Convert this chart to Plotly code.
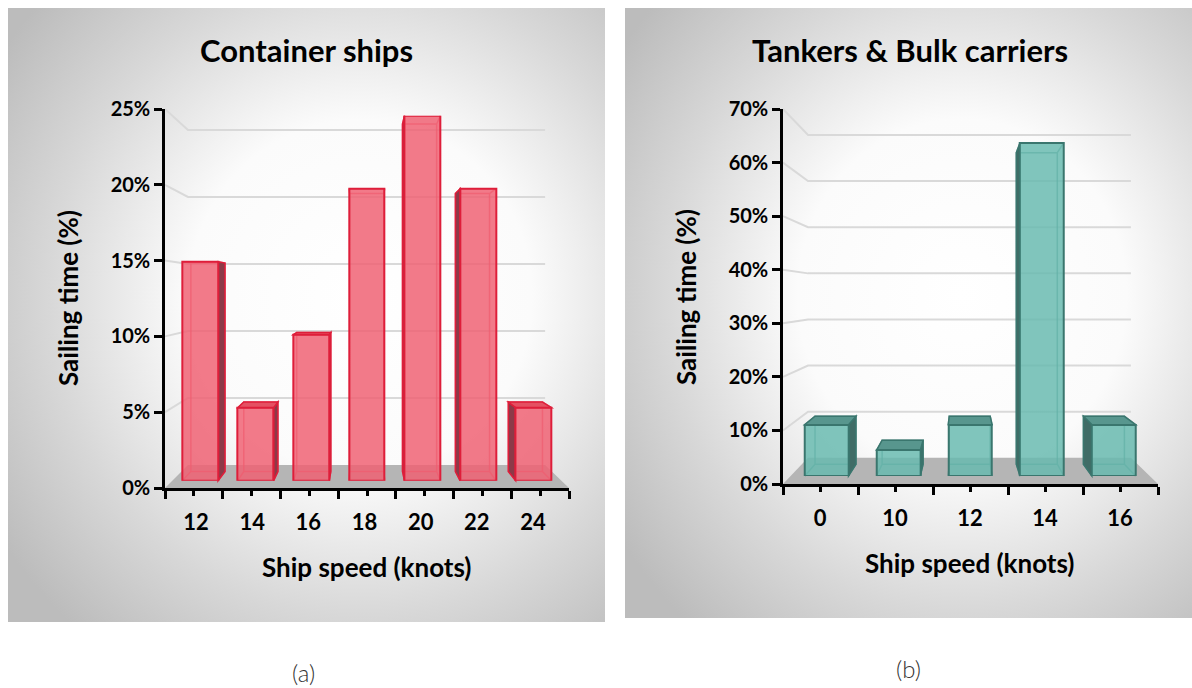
import base64
import plotly.graph_objects as go

W, H = 1192, 688

# ---- data ----
speed_containers = ["12", "14", "16", "18", "20", "22", "24"]
time_containers = [15, 5, 10, 20, 25, 20, 5]
ticks_containers = [0, 5, 10, 15, 20, 25]

speed_tankers = ["0", "10", "12", "14", "16"]
time_tankers = [10, 5, 10, 65, 10]
ticks_tankers = [0, 10, 20, 30, 40, 50, 60, 70]

panel_titles = ["Container ships", "Tankers & Bulk carriers"]
captions = ["(a)", "(b)"]
y_title = "Sailing time (%)"
x_title = "Ship speed (knots)"

FONT = "Lato, 'Open Sans', sans-serif"

# ---- panel geometry (pixels) and styling ----
PANELS = [
    dict(box=(8, 8, 605, 622), front_x=(165, 569), front_y=(488, 109), vp=(363, 290),
         k_bar=0.963, k_depth=0.952, k_wall=0.884, bar_w=0.645, label_x=(196, 533),
         title_xy=(306, 50), ytitle_xy=(68, 298), xtitle_xy=(367, 567), caption_xy=(303, 672),
         glow=(0.59, 0.47),
         face="rgba(240,96,114,0.84)", edge="rgb(222,30,58)", side="rgb(140,58,72)",
         top="rgb(228,80,98)", inner="rgba(236,70,92,0.7)"),
    dict(box=(625, 8, 1196, 618), front_x=(783, 1158), front_y=(484, 109), vp=(963, 296),
         k_bar=0.957, k_depth=0.935, k_wall=0.861, bar_w=0.61, label_x=(820, 1120),
         title_xy=(910, 50), ytitle_xy=(686, 297), xtitle_xy=(970, 563), caption_xy=(908, 668),
         glow=(0.59, 0.47),
         face="rgba(104,186,175,0.84)", edge="rgb(58,118,110)", side="rgb(64,108,102)",
         top="rgb(88,150,142)", inner="rgba(70,130,122,0.7)"),
]


def to_paper(px, py):
    return px / W, 1 - py / H


def path_of(points, close=True):
    pts = [to_paper(*p) for p in points]
    s = "M " + " L ".join(f"{x:.5f},{y:.5f}" for x, y in pts)
    return s + (" Z" if close else "")


def background_uri(w, h, cx, cy):
    svg = (
        f'<svg xmlns="http://www.w3.org/2000/svg" width="{w}" height="{h}" '
        f'viewBox="0 0 {w} {h}" preserveAspectRatio="none">'
        f'<defs><radialGradient id="g" cx="{cx}" cy="{cy}" r="0.72">'
        '<stop offset="0" stop-color="#ffffff"/>'
        '<stop offset="0.4" stop-color="#fbfbfb"/>'
        '<stop offset="0.72" stop-color="#d8d8d8"/>'
        '<stop offset="1" stop-color="#bcbcbc"/>'
        '</radialGradient></defs>'
        f'<rect x="0" y="0" width="{w}" height="{h}" fill="url(#g)"/></svg>'
    )
    return "data:image/svg+xml;base64," + base64.b64encode(svg.encode()).decode()


fig = go.Figure()
shapes, images, annotations = [], [], []
layout_axes = {}

datasets = [
    (speed_containers, time_containers, ticks_containers),
    (speed_tankers, time_tankers, ticks_tankers),
]

for idx, ((cats, vals, yticks), g) in enumerate(zip(datasets, PANELS)):
    n = len(cats)
    x0, x1 = g["front_x"]
    y0, yt = g["front_y"]
    ymax = yticks[-1]
    vx, vy = g["vp"]

    def front(u, v, x0=x0, x1=x1, y0=y0, yt=yt, n=n, ymax=ymax):
        return (x0 + (u + 0.5) / n * (x1 - x0), y0 - v / ymax * (y0 - yt))

    def proj(p, k, vx=vx, vy=vy):
        return (vx + (p[0] - vx) * k, vy + (p[1] - vy) * k)

    # background panel
    bx0, by0, bx1, by1 = g["box"]
    images.append(dict(
        source=background_uri(bx1 - bx0, by1 - by0, *g["glow"]),
        xref="paper", yref="paper", x=bx0 / W, y=1 - by0 / H,
        sizex=(bx1 - bx0) / W, sizey=(by1 - by0) / H,
        xanchor="left", yanchor="top", sizing="stretch", layer="below",
    ))

    kb, kd, kw = g["k_bar"], g["k_depth"], g["k_wall"]

    # back-wall gridlines, bent along the side wall
    for v in yticks[1:]:
        a = front(-0.5, v)
        shapes.append(dict(type="path", xref="paper", yref="paper", layer="below",
                           path=path_of([a, proj(a, kw), proj(front(n - 0.5, v), kw)], close=False),
                           line=dict(color="#d9d9d9", width=2)))

    # floor
    fl0, fr0 = front(-0.5, 0), front(n - 0.5, 0)
    shapes.append(dict(type="path", xref="paper", yref="paper", layer="below",
                       path=path_of([fl0, fr0, proj(fr0, kw), proj(fl0, kw)]),
                       fillcolor="#b5b5b5", line=dict(width=0)))

    # axis ids
    bx_id, by_id = 3 * idx + 1, 3 * idx + 1
    fx_id, fy_id = 3 * idx + 2, 3 * idx + 2
    lx_id = 3 * idx + 3

    def ax_name(letter, k):
        return f"{letter}axis" if k == 1 else f"{letter}axis{k}"

    def ref(letter, k):
        return letter if k == 1 else f"{letter}{k}"

    # bar plane extents
    pl_l = proj(front(-0.5, 0), kb)
    pl_r = proj(front(n - 0.5, 0), kb)
    pl_t = proj(front(-0.5, ymax), kb)

    # 3D faces of each bar
    hw = g["bar_w"] / 2
    for i, v in enumerate(vals):
        fl = proj(front(i - hw, 0), kb)
        fr = proj(front(i + hw, 0), kb)
        tl = proj(front(i - hw, v), kb)
        tr = proj(front(i + hw, v), kb)
        bl, br, btl, btr = (proj(p, kd) for p in (fl, fr, tl, tr))
        # hidden edges seen through the translucent front face
        inner = path_of([bl, br, btr, btl]) + " " + " ".join(
            path_of([p, q], close=False) for p, q in ((fl, bl), (fr, br), (tl, btl), (tr, btr)))
        shapes.append(dict(type="path", xref="paper", yref="paper", layer="below",
                           path=inner, line=dict(color=g["inner"], width=1.5)))
        if fr[0] < vx:
            shapes.append(dict(type="path", xref="paper", yref="paper", layer="below",
                               path=path_of([tr, btr, br, fr]), fillcolor=g["side"],
                               line=dict(color=g["edge"], width=1.5)))
        if fl[0] > vx:
            shapes.append(dict(type="path", xref="paper", yref="paper", layer="below",
                               path=path_of([tl, btl, bl, fl]), fillcolor=g["side"],
                               line=dict(color=g["edge"], width=1.5)))
        if tl[1] > vy:
            shapes.append(dict(type="path", xref="paper", yref="paper", layer="below",
                               path=path_of([tl, tr, btr, btl]), fillcolor=g["top"],
                               line=dict(color=g["edge"], width=1.5)))

    # bars (front faces)
    fig.add_trace(go.Bar(
        x=cats, y=vals, width=g["bar_w"],
        marker=dict(color=g["face"], line=dict(color=g["edge"], width=2)),
        xaxis=ref("x", bx_id), yaxis=ref("y", by_id), hoverinfo="skip", showlegend=False,
    ))
    layout_axes[ax_name("x", bx_id)] = dict(
        domain=[pl_l[0] / W, pl_r[0] / W], range=[-0.5, n - 0.5], type="category",
        visible=False, anchor=ref("y", by_id), fixedrange=True)
    layout_axes[ax_name("y", by_id)] = dict(
        domain=[1 - pl_l[1] / H, 1 - pl_t[1] / H], range=[0, ymax],
        visible=False, anchor=ref("x", bx_id), fixedrange=True)

    # front axes: value axis with ticks and category axis with tick marks
    fig.add_trace(go.Scatter(x=[0], y=[0], mode="markers", marker=dict(opacity=0),
                             xaxis=ref("x", fx_id), yaxis=ref("y", fy_id),
                             hoverinfo="skip", showlegend=False))
    layout_axes[ax_name("x", fx_id)] = dict(
        domain=[x0 / W, x1 / W], range=[-0.5, n - 0.5], anchor=ref("y", fy_id),
        showline=True, linecolor="black", linewidth=2.5, showgrid=False, zeroline=False,
        ticks="outside", tickmode="array", tickvals=[k - 0.5 for k in range(n + 1)],
        ticklen=8, tickwidth=2.5, tickcolor="black", showticklabels=False,
        minor=dict(ticks="outside", tickmode="array", tickvals=list(range(n)),
                   ticklen=5, tickwidth=2.5, tickcolor="black"),
        fixedrange=True, automargin=False)
    layout_axes[ax_name("y", fy_id)] = dict(
        domain=[1 - y0 / H, 1 - yt / H], range=[0, ymax], anchor=ref("x", fx_id),
        showline=True, linecolor="black", linewidth=2.5, showgrid=False, zeroline=False,
        ticks="outside", tickmode="array", tickvals=yticks,
        ticktext=[f"{v}%" for v in yticks], ticklen=8, tickwidth=2.5, tickcolor="black",
        tickfont=dict(family=FONT, size=20, color="black", weight="bold"),
        fixedrange=True, automargin=False)

    # category labels
    lx0, lx1 = g["label_x"]
    step = (lx1 - lx0) / (n - 1)
    fig.add_trace(go.Scatter(x=cats, y=[0] * n, mode="markers", marker=dict(opacity=0),
                             xaxis=ref("x", lx_id), yaxis=ref("y", fy_id),
                             hoverinfo="skip", showlegend=False))
    layout_axes[ax_name("x", lx_id)] = dict(
        domain=[(lx0 - step / 2) / W, (lx1 + step / 2) / W], range=[-0.5, n - 0.5],
        type="category", anchor="free", position=1 - y0 / H, showline=False,
        showgrid=False, zeroline=False, ticks="", ticklabelstandoff=19,
        tickfont=dict(family=FONT, size=22, color="black", weight="bold"),
        fixedrange=True, automargin=False)

    # titles and caption
    tx, ty = g["title_xy"]
    annotations.append(dict(text=panel_titles[idx], x=tx / W, y=1 - ty / H, xref="paper",
                            yref="paper", showarrow=False, xanchor="center", yanchor="middle",
                            font=dict(family=FONT, size=31, color="black", weight="bold")))
    ax_, ay_ = g["ytitle_xy"]
    annotations.append(dict(text=y_title, x=ax_ / W, y=1 - ay_ / H, xref="paper",
                            yref="paper", showarrow=False, textangle=-90,
                            xanchor="center", yanchor="middle",
                            font=dict(family=FONT, size=26, color="black", weight="bold")))
    xx, xy = g["xtitle_xy"]
    annotations.append(dict(text=x_title, x=xx / W, y=1 - xy / H, xref="paper",
                            yref="paper", showarrow=False, xanchor="center", yanchor="middle",
                            font=dict(family=FONT, size=26, color="black", weight="bold")))
    cx, cy = g["caption_xy"]
    annotations.append(dict(text=captions[idx], x=cx / W, y=1 - cy / H, xref="paper",
                            yref="paper", showarrow=False, xanchor="center", yanchor="middle",
                            font=dict(family=FONT, size=24, color="#333333", weight=300)))

fig.update_layout(
    width=W, height=H, margin=dict(l=0, r=0, t=0, b=0, autoexpand=False),
    paper_bgcolor="white", plot_bgcolor="rgba(0,0,0,0)",
    showlegend=False, bargap=0, shapes=shapes, images=images, annotations=annotations,
    **layout_axes,
)

fig.write_html("out.html", include_plotlyjs=True, config=dict(displayModeBar=False))
